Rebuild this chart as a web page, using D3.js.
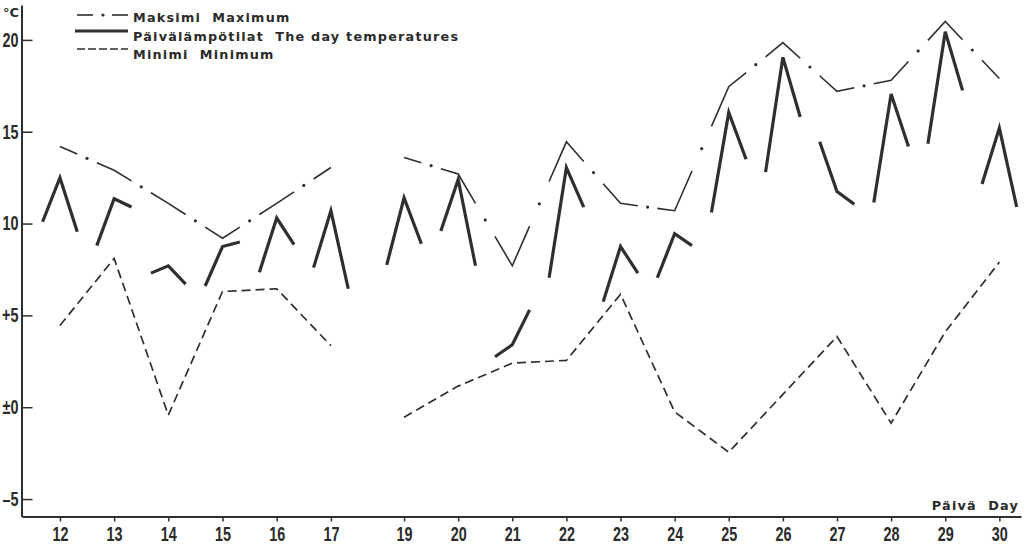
<!DOCTYPE html>
<html>
<head>
<meta charset="utf-8">
<script src="https://cdn.jsdelivr.net/npm/d3@7"></script>
<style>
  body { margin: 0; background: #fff; }
  svg { display: block; }
  .lab { font-family: "DejaVu Sans", sans-serif; font-weight: bold; font-size: 12.8px; letter-spacing: 1.2px; fill: #2b2b2b; }
  .tick text { font-family: "Liberation Sans Narrow", "Liberation Sans", sans-serif; font-size: 20px; font-weight: bold; fill: #2b2b2b; }
</style>
</head>
<body>
<svg id="chart" width="1025" height="548"></svg>
<script>
// days of the month (no reading on the 18th)
const days = [12, 13, 14, 15, 16, 17, 19, 20, 21, 22, 23, 24, 25, 26, 27, 28, 29, 30];
const maxTemps = [14.2, 12.9, 11.1, 9.2, 11.1, 13.05, 13.6, 12.7, 7.7, 14.45, 11.1, 10.7, 17.45, 19.85, 17.2, 17.8, 21.0, 17.9];
const minTemps = [4.45, 8.1, -0.43, 6.3, 6.45, 3.35, -0.55, 1.15, 2.4, 2.55, 6.15, -0.25, -2.45, 0.7, 3.85, -0.87, 4.1, 7.9];
// three readings a day: morning, midday, evening
const morning = [10.1, 8.8, 7.3, 6.6, 7.35, 7.6, 7.75, 9.6, 2.75, 7.05, 5.75, 7.05, 10.6, 12.8, 14.45, 11.15, 14.35, 12.15];
const midday  = [12.5, 11.35, 7.7, 8.75, 10.3, 10.7, 11.4, 12.4, 3.4, 13.05, 8.75, 9.45, 16.05, 19.05, 11.75, 17.05, 20.45, 15.2];
const evening = [9.55, 10.9, 6.7, 9.0, 8.85, 6.45, 8.9, 7.7, 5.3, 10.9, 7.3, 8.8, 13.5, 15.8, 11.05, 14.2, 17.25, 10.9];
const readingOffsets = [-0.32, 0, 0.32];

const yTicks = [-5, 0, 5, 10, 15, 20];
const yLabels = ["–5", "±0", "+5", "10", "15", "20"];
const legendItems = ["Maksimi  Maximum", "Päivälämpötilat  The day temperatures", "Minimi  Minimum"];

const svg = d3.select("#chart");
const ink = "#2f2f2f";

// the 17 -> 19 gap is squeezed on the original sheet
const x = d3.scaleLinear().domain([11.3, 17.5, 18.5, 30.4]).range([22, 358, 377, 1021]);
const y = d3.scaleLinear().domain([-5.95, 21.9]).range([516.5, 5]);

// axes
let xAxis = d3.axisBottom(x).tickValues(days).tickSizeInner(5).tickSizeOuter(0).tickPadding(5);
let xg = svg.append("g").attr("transform", "translate(0,516.5)").call(xAxis);
xg.select(".domain").attr("stroke", ink).attr("stroke-width", 2);
xg.selectAll(".tick line").attr("stroke", ink).attr("stroke-width", 1.5);
xg.selectAll(".tick text").attr("transform", "scale(0.72,1)").attr("dy", "0.75em");

let yAxis = d3.axisLeft(y).tickValues(yTicks).tickSizeInner(-11).tickSizeOuter(0).tickPadding(3)
    .tickFormat((d, i) => yLabels[i]);
let yg = svg.append("g").attr("transform", "translate(21.5,0)").call(yAxis);
yg.select(".domain").attr("stroke", ink).attr("stroke-width", 2);
yg.selectAll(".tick line").attr("stroke", ink).attr("stroke-width", 1.5);
yg.selectAll(".tick text").attr("transform", "scale(0.72,1)").attr("x", -3 / 0.72);

// split into continuous runs of days
let runs = [];
days.forEach((d, i) => {
    if (i === 0 || d - days[i - 1] > 1) runs.push([]);
    runs[runs.length - 1].push(i);
});

const line = d3.line().x(d => x(d[0])).y(d => y(d[1]));
const lerp = (a, b, t) => [a[0] + (b[0] - a[0]) * t, a[1] + (b[1] - a[1]) * t];

// minimum: dashed line
runs.forEach(run => {
    svg.append("path")
        .attr("d", line(run.map(i => [days[i], minTemps[i]])))
        .attr("fill", "none").attr("stroke", ink).attr("stroke-width", 1.7)
        .attr("stroke-dasharray", "9,5");
});

// maximum: dash around every day, dot between days
const f = 0.32;
runs.forEach(run => {
    let pts = run.map(i => [days[i], maxTemps[i]]);
    pts.forEach((p, k) => {
        let seg = [];
        if (k > 0) seg.push(lerp(pts[k - 1], p, 1 - f));
        seg.push(p);
        if (k < pts.length - 1) seg.push(lerp(p, pts[k + 1], f));
        svg.append("path").attr("d", line(seg))
            .attr("fill", "none").attr("stroke", ink).attr("stroke-width", 1.6);
        if (k < pts.length - 1) {
            let m = lerp(p, pts[k + 1], 0.5);
            svg.append("circle").attr("cx", x(m[0])).attr("cy", y(m[1])).attr("r", 1.6).attr("fill", ink);
        }
    });
});

// day temperatures: three readings per day
days.forEach((d, i) => {
    let vals = [morning[i], midday[i], evening[i]];
    svg.append("path")
        .attr("d", line(vals.map((v, k) => [d + readingOffsets[k], v])))
        .attr("fill", "none").attr("stroke", ink).attr("stroke-width", 3.2)
        .attr("stroke-linejoin", "miter");
});

// legend
let lg = svg.append("g");
lg.append("line").attr("x1", 77).attr("x2", 93).attr("y1", 15).attr("y2", 15).attr("stroke", ink).attr("stroke-width", 1.6);
lg.append("circle").attr("cx", 103).attr("cy", 15).attr("r", 1.6).attr("fill", ink);
lg.append("line").attr("x1", 112).attr("x2", 128).attr("y1", 15).attr("y2", 15).attr("stroke", ink).attr("stroke-width", 1.6);
lg.append("line").attr("x1", 75).attr("x2", 128).attr("y1", 31).attr("y2", 31).attr("stroke", ink).attr("stroke-width", 3);
lg.append("line").attr("x1", 77).attr("x2", 128).attr("y1", 49).attr("y2", 49).attr("stroke", ink).attr("stroke-width", 1.6)
    .attr("stroke-dasharray", "8,3");
lg.selectAll("text.lab").data(legendItems).enter().append("text")
    .attr("class", "lab").attr("x", 133).attr("y", (d, i) => 22 + i * 18.5)
    .style("white-space", "pre").text(d => d);

svg.append("text").attr("class", "lab").attr("x", 3).attr("y", 17)
    .style("letter-spacing", "0px").style("font-size", "13px").text("°C");
svg.append("text").attr("class", "lab").attr("x", 1019).attr("y", 510)
    .attr("text-anchor", "end").style("white-space", "pre").text("Päivä  Day");
</script>
</body>
</html>
